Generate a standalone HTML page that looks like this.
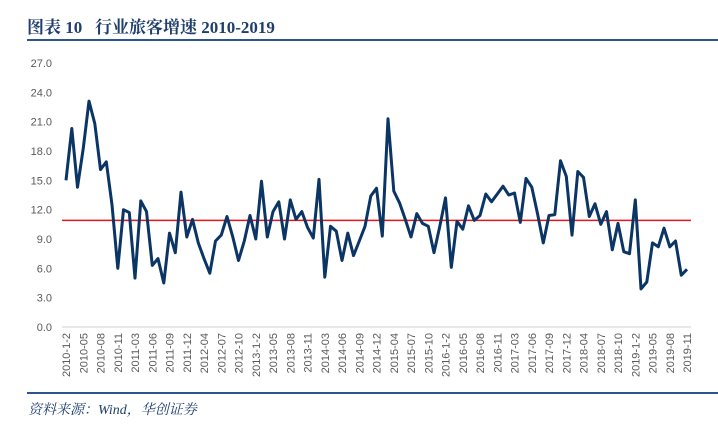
<!DOCTYPE html>
<html><head><meta charset="utf-8"><style>
body{margin:0;width:718px;height:431px;background:#fff;overflow:hidden;}
svg{display:block}
</style></head><body>
<svg id="c" width="718" height="431" xmlns="http://www.w3.org/2000/svg">
<text x="27" y="33" font-family="'Liberation Serif','Noto Serif CJK SC',serif" font-weight="bold" font-size="17" fill="#1f3e6e">图表 10 &#160;&#160;行业旅客增速 2010-2019</text>
<line x1="27" y1="40" x2="718" y2="40" stroke="#2b5590" stroke-width="2"/>
<line x1="27" y1="393" x2="718" y2="393" stroke="#2b5590" stroke-width="2"/>
<text x="28" y="414" font-family="'Liberation Serif','Noto Serif CJK SC',serif" font-style="italic" font-size="14" fill="#1f3e6e">资料来源：Wind，华创证券</text>
<g id="axes"></g>
<g id="plot"></g>
</svg>
<script>
const categories=(function(){const a=[];for(let y=2010;y<=2019;y++){a.push(y+'-1-2');for(let m=3;m<=12;m++){if(y===2019&&m>11)break;a.push(y+'-'+(m<10?'0':'')+m);}}return a;})();
const growthValues=[15.0,20.3,14.3,18.3,23.1,20.8,16.1,16.9,12.5,6.0,12.0,11.7,5.0,12.9,11.8,6.3,7.0,4.5,9.6,7.6,13.8,9.2,11.0,8.6,7.0,5.5,8.8,9.4,11.3,9.2,6.8,8.8,11.4,9.0,14.9,9.2,11.8,12.8,9.0,13.0,11.0,11.8,10.2,9.1,15.1,5.1,10.3,9.8,6.8,9.6,7.3,8.8,10.3,13.4,14.2,9.3,21.3,13.9,12.7,11.0,9.2,11.6,10.6,10.3,7.6,10.3,13.2,6.1,10.8,10.0,12.4,10.9,11.4,13.6,12.8,13.6,14.4,13.5,13.7,10.7,15.2,14.3,11.6,8.6,11.4,11.5,17.0,15.4,9.4,15.9,15.3,11.3,12.6,10.5,11.8,7.9,10.6,7.7,7.5,13.0,3.9,4.6,8.6,8.2,10.1,8.2,8.8,5.3,5.9];
const referenceValue=[10.9];
const yTicks=[0,3,6,9,12,15,18,21,24,27];
const NS='http://www.w3.org/2000/svg';
const x0=66,x1=687,yB=327,yT=63;
const xs=i=>x0+(x1-x0)*i/(categories.length-1);
const ys=v=>yB-(yB-yT)*v/27;
const axes=document.getElementById('axes'),plot=document.getElementById('plot');
function mk(tag,attrs,parent){const e=document.createElementNS(NS,tag);for(const k in attrs)e.setAttribute(k,attrs[k]);parent.appendChild(e);return e;}
const ax=mk('line',{x1:62,x2:691,y1:yB,y2:yB,stroke:'#d0d0d0','stroke-width':1},axes);


yTicks.forEach(v=>{const t=mk('text',{x:52,y:ys(v)+4,'text-anchor':'end','font-family':'Liberation Sans, sans-serif','font-size':11,fill:'#595959'},axes);t.textContent=v.toFixed(1);

});
categories.forEach((c,i)=>{if(i%3)return;const x=xs(i);const t=mk('text',{x:0,y:0,transform:`translate(${x+4},333) rotate(-90)`,'text-anchor':'end','font-family':'Liberation Sans, sans-serif','font-size':11,fill:'#595959'},axes);t.textContent=c;

});
const ref=mk('line',{x1:62,x2:691,y1:ys(referenceValue[0]),y2:ys(referenceValue[0]),stroke:'#e8141b','stroke-width':1.5},plot);


const pl=mk('polyline',{points:growthValues.map((v,i)=>xs(i).toFixed(1)+','+ys(v).toFixed(1)).join(' '),fill:'none',stroke:'#0b3565','stroke-width':3,'stroke-linejoin':'round'},plot);


</script>
</body></html>
